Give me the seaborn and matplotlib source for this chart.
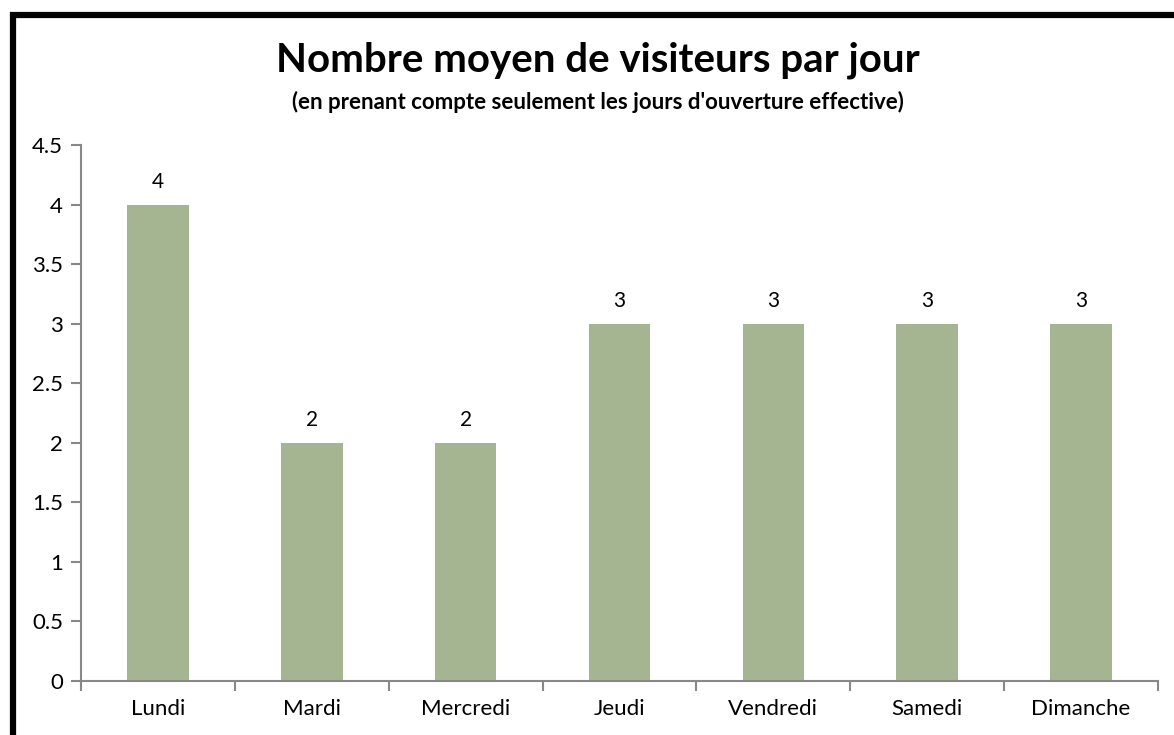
import pandas as pd
import seaborn as sns
import matplotlib.pyplot as plt
from matplotlib.patches import Rectangle

jours = ["Lundi", "Mardi", "Mercredi", "Jeudi", "Vendredi", "Samedi", "Dimanche"]
visiteurs = [4, 2, 2, 3, 3, 3, 3]

df = pd.DataFrame({"jour": jours, "visiteurs": visiteurs})

sns.set_style("white")
plt.rcParams["font.family"] = ["Lato", "DejaVu Sans"]
plt.rcParams["text.color"] = "black"
plt.rcParams["xtick.color"] = "black"
plt.rcParams["ytick.color"] = "black"

fig = plt.figure(figsize=(11.74, 7.35), dpi=100)
ax = fig.add_axes([81/1174, 1 - 681/735, (1158-81)/1174, (681-145)/735])

sns.barplot(data=df, x="jour", y="visiteurs", color="#A6B591", width=0.4,
            saturation=1, linewidth=0, ax=ax)

for c in ax.containers:
    ax.bar_label(c, fmt="%d", padding=9, fontsize=15)

ax.set_ylim(0, 4.5)
ax.set_xlim(-0.5, len(jours) - 0.5)
ax.set_yticks([0, 0.5, 1, 1.5, 2, 2.5, 3, 3.5, 4, 4.5])
ax.set_yticklabels(["0", "0.5", "1", "1.5", "2", "2.5", "3", "3.5", "4", "4.5"])
ax.set_xlabel("")
ax.set_ylabel("")

# ticks at category boundaries, like Excel
ax.set_xticks([i + 0.5 for i in range(-1, len(jours))], minor=False)
ax.set_xticklabels([""] * (len(jours) + 1))
ax.set_xticks(range(len(jours)), minor=True)
ax.set_xticklabels(jours, minor=True)
ax.tick_params(axis="x", which="major", length=7, width=1.5, color="#888888", direction="out", bottom=True)
ax.tick_params(axis="x", which="minor", length=0, pad=13, labelsize=16)
ax.tick_params(axis="y", length=7, width=1.5, color="#888888", direction="out", left=True, labelsize=16, pad=6)

ax.spines[["right", "top"]].set_visible(False)
for s in ["left", "bottom"]:
    ax.spines[s].set_color("#888888")
    ax.spines[s].set_linewidth(1.5)

fig.text(598/1174, 1 - 60/735, "Nombre moyen de visiteurs par jour",
         ha="center", va="center", fontsize=29, fontweight="bold")
fig.text(598/1174, 1 - 102/735, "(en prenant compte seulement les jours d'ouverture effective)",
         ha="center", va="center", fontsize=16, fontweight="bold")

fig.patches.append(Rectangle((13/1174, -0.1), 1.2, 1 - 15/735 + 0.1,
                             transform=fig.transFigure, fill=False,
                             edgecolor="black", linewidth=4.5))

plt.savefig("out.png", dpi=100)
